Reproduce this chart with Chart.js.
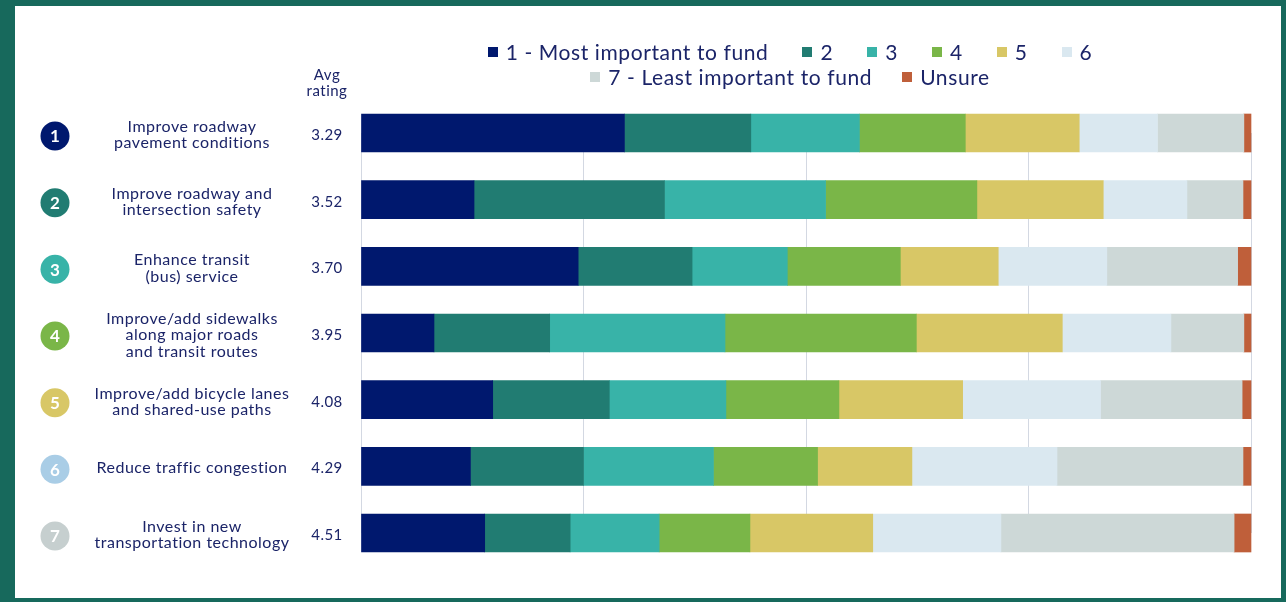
<!DOCTYPE html>
<html>
<head>
<meta charset="utf-8">
<script src="https://cdn.jsdelivr.net/npm/chart.js@4.4.1/dist/chart.umd.min.js"></script>
<style>
    html, body { margin: 0; padding: 0; background: #fff; }
    #frame {
        position: relative;
        width: 1286px;
        height: 602px;
        box-sizing: border-box;
        border-style: solid;
        border-color: #17695c;
        border-width: 6px 5px 4px 15px;
        background: #fff;
        font-family: 'Lato', sans-serif;
    }
    #chartWrap { position: absolute; left: 0; top: 0; width: 1266px; height: 592px; }
    #legend {
        position: absolute;
        left: 445px;
        width: 660px;
        top: 33px;
        color: #1b2468;
        font-size: 21px;
        letter-spacing: 0.6px;
    }
    .legend-row { display: flex; justify-content: center; height: 25px; line-height: 25px; }
    .legend-item { display: flex; align-items: center; margin: 0 17px; white-space: nowrap; }
    .legend-row + .legend-row .legend-item { margin: 0 15px; }
    .legend-box { width: 10px; height: 10px; margin-right: 8px; }
</style>
</head>
<body>
<div id="frame">
    <div id="chartWrap"><canvas id="chart"></canvas></div>
    <div id="legend"></div>
</div>
<script>
// Datos
const categories = [
    ['Improve roadway', 'pavement conditions'],
    ['Improve roadway and', 'intersection safety'],
    ['Enhance transit', '(bus) service'],
    ['Improve/add sidewalks', 'along major roads', 'and transit routes'],
    ['Improve/add bicycle lanes', 'and shared-use paths'],
    ['Reduce traffic congestion'],
    ['Invest in new', 'transportation technology']
];
const avgRatings = ['3.29', '3.52', '3.70', '3.95', '4.08', '4.29', '4.51'];
const seriesNames = ['1 - Most important to fund', '2', '3', '4', '5', '6', '7 - Least important to fund', 'Unsure'];

const rank1 = [29.6, 12.7, 24.4, 8.2, 14.8, 12.3, 13.9];
const rank2 = [14.2, 21.4, 12.8, 13.0, 13.1, 12.7, 9.6];
const rank3 = [12.2, 18.1, 10.7, 19.7, 13.1, 14.6, 10.0];
const rank4 = [11.9, 17.0, 12.7, 21.5, 12.7, 11.7, 10.2];
const rank5 = [12.8, 14.2, 11.0, 16.4, 13.9, 10.6, 13.8];
const rank6 = [8.8, 9.4, 12.2, 12.2, 15.5, 16.3, 14.4];
const rank7 = [9.7, 6.3, 14.7, 8.2, 15.9, 20.9, 26.2];
const unsure = [0.8, 0.9, 1.5, 0.8, 1.0, 0.9, 1.9];
const xTicks = [0, 25, 50, 75, 100];

// Estilos
const seriesColors = ['#00186e', '#217c72', '#38b3a8', '#7ab648', '#d8c766', '#dae8f0', '#cdd8d7', '#bf5f3a'];
const circleColors = ['#00186e', '#217c72', '#38b3a8', '#7ab648', '#d8c766', '#a9cde6', '#c6cfcf'];
const textColor = '#1b2468';

const seriesData = [rank1, rank2, rank3, rank4, rank5, rank6, rank7, unsure];

// Leyenda en HTML (dos filas)
function buildLegend() {
    const legend = document.getElementById('legend');
    [seriesNames.slice(0, 6), seriesNames.slice(6)].forEach((names, r) => {
        const row = document.createElement('div');
        row.className = 'legend-row';
        names.forEach((name, j) => {
            const idx = r * 6 + j;
            const item = document.createElement('div');
            item.className = 'legend-item';
            const box = document.createElement('span');
            box.className = 'legend-box';
            box.style.background = seriesColors[idx];
            const txt = document.createElement('span');
            txt.textContent = name;
            item.appendChild(box);
            item.appendChild(txt);
            row.appendChild(item);
        });
        legend.appendChild(row);
    });
}

// Etiquetas de la izquierda: círculos, texto y promedio
const leftLabels = {
    id: 'leftLabels',
    afterDraw(chart) {
        const ctx = chart.ctx;
        const yScale = chart.scales.y;
        ctx.save();
        ctx.textBaseline = 'middle';
        ctx.textAlign = 'center';
        ctx.fillStyle = textColor;
        ctx.letterSpacing = '0.5px';
        ctx.font = '15px Lato';
        ctx.fillText('Avg', 312, 69);
        ctx.fillText('rating', 312, 85);

        categories.forEach((lines, i) => {
            const y = yScale.getPixelForValue(i);
            // círculo
            ctx.beginPath();
            ctx.fillStyle = circleColors[i];
            ctx.arc(40, y + 3, 14.5, 0, Math.PI * 2);
            ctx.fill();
            ctx.fillStyle = '#fff';
            ctx.letterSpacing = '0px';
            ctx.font = 'bold 17px Lato';
            ctx.fillText(String(i + 1), 40, y + 4);

            // texto de la categoría
            ctx.fillStyle = textColor;
            ctx.letterSpacing = '0.5px';
            ctx.font = '16px Lato';
            const lh = 16.5;
            const start = y + 2 - (lines.length - 1) * lh / 2;
            lines.forEach((line, k) => ctx.fillText(line, 177, start + k * lh));

            // promedio
            ctx.font = '15px Lato';
            ctx.fillText(avgRatings[i], 312, y + 2);
        });
        ctx.restore();
    }
};

function initializeChart() {
    const ctx = document.getElementById('chart').getContext('2d');
    new Chart(ctx, {
        type: 'bar',
        data: {
            labels: categories,
            datasets: seriesNames.map((name, i) => ({
                label: name,
                data: seriesData[i],
                backgroundColor: seriesColors[i],
                borderWidth: 0,
                barThickness: 38,
                clip: false
            }))
        },
        options: {
            indexAxis: 'y',
            responsive: true,
            maintainAspectRatio: false,
            animation: false,
            layout: { padding: { left: 346, right: 30, top: 127, bottom: 65 } },
            plugins: {
                legend: { display: false },
                tooltip: { enabled: false }
            },
            scales: {
                x: {
                    stacked: true,
                    min: 0,
                    max: 100,
                    afterBuildTicks: (scale) => { scale.ticks = xTicks.map(v => ({ value: v })); },
                    ticks: { display: false },
                    grid: { color: '#d3d8e2', lineWidth: 1, drawTicks: false },
                    border: { display: false }
                },
                y: {
                    stacked: true,
                    offset: false,
                    display: false,
                    grid: { display: false }
                }
            }
        },
        plugins: [leftLabels]
    });
}

document.addEventListener('DOMContentLoaded', () => {
    buildLegend();
    initializeChart();
});
</script>
</body>
</html>
